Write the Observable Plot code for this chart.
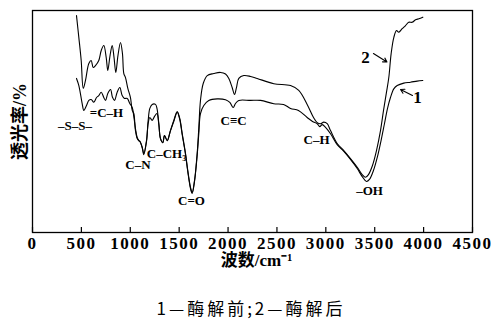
<!DOCTYPE html>
<html><head><meta charset="utf-8">
<script src="https://cdn.jsdelivr.net/npm/d3@7"></script>
<script src="https://cdn.jsdelivr.net/npm/@observablehq/plot@0.6"></script>
<style>
body{margin:0;background:#fff}
#chart svg{display:block}
</style></head><body><div id="chart"></div>
<script>
// Curve 2 (after enzymolysis)
const wn2 = [450,474,498,519,542,576,600,621,644,678,703,729,754,770,793,815,834,852,874,900,920,934,951,975,1002,1020,1036,1053,1071,1087,1099,1122,1138,1166,1183,1200,1224,1258,1273,1292,1309,1333,1350,1378,1411,1445,1480,1506,1531,1565,1588,1616,1633,1657,1684,1701,1718,1746,1787,1854,1923,1974,2008,2042,2066,2086,2110,2161,2230,2298,2468,2639,2723,2809,2874,2912,2945,2979,3014,3048,3116,3184,3252,3321,3372,3406,3436,3477,3518,3559,3590,3620,3644,3668,3695,3723,3746,3781,3815,3848,3883,3917,3951,3992];
const t2 = [97.7,87.8,77.5,64.9,68.5,76.1,77.5,74.3,75.2,77.5,82.0,84.2,78.8,73.0,79.7,84.2,78.8,72.1,79.7,85.6,80.6,71.6,69.8,64.9,60.8,55.0,53.6,45.9,42.3,41.4,41.0,38.3,35.6,41.4,50.5,55.9,57.7,57.7,55.9,49.1,42.3,40.5,43.7,41.4,45.9,50.5,54.5,51.4,44.6,35.6,27.9,20.3,18.0,23.4,35.6,47.3,59.5,67.1,70.7,71.6,72.1,71.4,69.4,65.3,62.2,65.3,69.4,70.7,70.3,69.4,67.0,66.2,64.0,57.7,51.8,49.5,49.0,49.7,49.0,45.9,40.1,36.9,33.3,29.4,26.1,24.9,26.1,30.2,36.9,45.9,55.0,63.1,69.8,80.6,87.8,91.0,90.2,91.8,93.2,94.7,94.7,95.8,96.3,97.0];
// Curve 1 (before enzymolysis)
const wn1 = [450,474,508,525,552,576,600,627,655,678,703,729,747,770,798,818,839,866,893,917,941,969,995,1020,1036,1053,1071,1087,1099,1122,1138,1166,1183,1200,1224,1248,1273,1292,1309,1333,1350,1378,1411,1445,1480,1506,1531,1565,1588,1616,1633,1657,1684,1701,1718,1752,1803,1889,1974,2018,2053,2076,2110,2230,2332,2468,2567,2639,2720,2809,2864,2912,2938,2963,2997,3048,3116,3184,3252,3321,3372,3416,3446,3487,3528,3569,3600,3631,3661,3695,3730,3797,3866,3934,3992];
const t1 = [69.4,66.2,58.1,55.0,57.2,59.5,59.9,58.7,60.8,61.7,63.2,60.8,59.5,62.6,64.4,60.9,59.5,63.2,65.3,61.7,60.4,60.4,58.1,56.3,52.3,46.8,42.8,41.4,41.0,38.3,35.1,41.0,49.1,51.8,50.5,52.3,53.6,48.6,42.3,40.5,43.7,41.4,45.9,50.0,54.1,50.9,44.1,35.1,27.5,19.8,17.6,23.0,34.7,44.6,53.6,57.2,59.5,60.2,59.8,58.6,56.3,58.1,59.5,59.5,59.5,58.0,57.7,55.9,55.0,51.8,50.0,49.0,47.7,48.6,47.4,44.5,39.6,36.5,32.9,28.8,25.2,23.0,23.9,27.9,34.2,42.3,49.1,55.9,60.8,64.7,66.2,67.3,67.7,68.2,68.5];

const xTicks = [0,500,1000,1500,2000,2500,3000,3500,4000,4500];

// Peak annotations
const peakText = ["–S–S–","=C–H","C–N","C–CH₃","C=O","C≡C","C–H","–OH"];
const peakWn   = [435,757,1079,1370,1626,2056,2905,3447];
const peakT    = [48.2,54.1,30.6,35.6,14.4,50.5,41.9,18.9];

// Curve number labels and arrows
const curveText = ["2","1"];
const curveWn = [3406,3937];
const curveT  = [78.8,60.8];
const arrowWn1 = [3487,3886], arrowT1 = [80.6,61.7];
const arrowWn2 = [3625,3764], arrowT2 = [76.8,64.4];

const xLabel = ["波数/cm⁻¹"];
const yLabel = ["透光率/%"];
const caption = ["1—酶解前;2—酶解后"];

const c1 = wn1.map((w,i)=>({wn:w,t:t1[i]}));
const c2 = wn2.map((w,i)=>({wn:w,t:t2[i]}));
const peaks = peakText.map((s,i)=>({s,wn:peakWn[i],t:peakT[i]}));
const nums = curveText.map((s,i)=>({s,wn:curveWn[i],t:curveT[i]}));
const arrows = arrowWn1.map((w,i)=>({x1:w,y1:arrowT1[i],x2:arrowWn2[i],y2:arrowT2[i]}));

const serif = "'Liberation Serif','Times New Roman','Noto Sans CJK SC',serif";
const chart = Plot.plot({
  width:494, height:320,
  marginLeft:32, marginRight:22, marginTop:10, marginBottom:88,
  style:{fontFamily:serif, background:"#fff", color:"#000"},
  x:{domain:[0,4500], label:null},
  y:{domain:[0,100], axis:null},
  marks:[
    Plot.frame({stroke:"#000", strokeWidth:1.3}),
    Plot.tickX(xTicks,{x:d=>d, insetTop:217, stroke:"#000", strokeWidth:1.2}),
    Plot.axisX({ticks:xTicks, tickSize:0, tickPadding:4, tickFormat:d=>String(d), fontSize:17, fontWeight:"bold", label:null}),
    Plot.line(c1,{x:"wn", y:"t", curve:"catmull-rom", stroke:"#000", strokeWidth:1.1}),
    Plot.line(c2,{x:"wn", y:"t", curve:"catmull-rom", stroke:"#000", strokeWidth:1.1}),
    Plot.text(peaks,{x:"wn", y:"t", text:"s", fontSize:13, fontWeight:"bold", fill:"#000"}),
    Plot.text(nums,{x:"wn", y:"t", text:"s", fontSize:17, fontWeight:"bold", fill:"#000"}),
    Plot.arrow(arrows,{x1:"x1", y1:"y1", x2:"x2", y2:"y2", stroke:"#000", strokeWidth:1.1, headLength:6}),
    Plot.text(xLabel,{text:d=>d, frameAnchor:"bottom", lineAnchor:"middle", textAnchor:"middle", dy:28, dx:4, fontSize:17, fontWeight:"bold", fill:"#000"}),
    Plot.text(yLabel,{text:d=>d, frameAnchor:"left", lineAnchor:"middle", textAnchor:"middle", dx:-12, rotate:-90, fontSize:18, fontWeight:"bold", fill:"#000"}),
    Plot.text(caption,{text:d=>d, frameAnchor:"bottom", lineAnchor:"middle", textAnchor:"middle", dy:77, dx:-1.5, fontSize:17, fontFamily:"'Noto Sans CJK SC',sans-serif", fontWeight:"normal", fill:"#000"})
  ]
});
const tickStr = xTicks.map(String);
chart.querySelectorAll("text").forEach(t => {
  const s = t.textContent;
  if (s === caption[0]) t.setAttribute("letter-spacing", "3");
  else if (tickStr.includes(s)) t.setAttribute("letter-spacing", "1.5");
});
document.getElementById("chart").appendChild(chart);
</script></body></html>
